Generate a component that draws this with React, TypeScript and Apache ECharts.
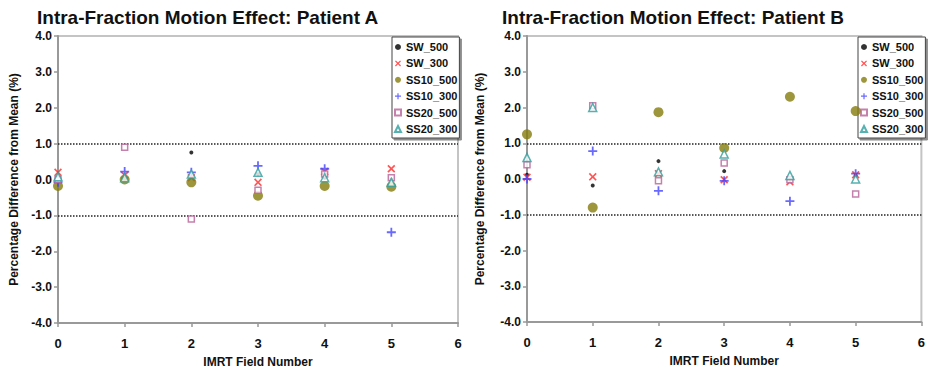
import React, { useEffect, useRef } from "react";
import * as echarts from "echarts";

// IMRT field numbers on the x axis
const fields = [0, 1, 2, 3, 4, 5];
const seriesNames = ["SW_500", "SW_300", "SS10_500", "SS10_300", "SS20_500", "SS20_300"];
const yTicks = [-4, -3, -2, -1, 0, 1, 2, 3, 4];
const toleranceLevels = [1, -1];

// Patient A: percentage difference from mean per field
const aSW500 = [0.05, 0.02, 0.75, 0.15, 0.05, 0.0];
const aSW300 = [0.2, 0.12, 0.05, -0.08, 0.22, 0.3];
const aSS10_500 = [-0.18, 0.0, -0.08, -0.45, -0.18, -0.2];
const aSS10_300 = [-0.08, 0.22, 0.2, 0.38, 0.3, -1.47];
const aSS20_500 = [0.0, 0.9, -1.1, -0.3, 0.15, 0.05];
const aSS20_300 = [0.08, 0.05, 0.15, 0.2, 0.05, -0.08];

// Patient B: percentage difference from mean per field
const bSW500 = [0.12, -0.18, 0.5, 0.22, 0.0, 0.1];
const bSW300 = [0.05, 0.06, 0.15, -0.02, -0.08, 0.12];
const bSS10_500 = [1.25, -0.8, 1.87, 0.87, 2.3, 1.9];
const bSS10_300 = [0.0, 0.78, -0.33, -0.05, -0.62, 0.15];
const bSS20_500 = [0.4, 2.05, -0.05, 0.45, -0.02, -0.42];
const bSS20_300 = [0.6, 2.0, 0.2, 0.7, 0.1, 0.0];

const patientA = [aSW500, aSW300, aSS10_500, aSS10_300, aSS20_500, aSS20_300];
const patientB = [bSW500, bSW300, bSS10_500, bSS10_300, bSS20_500, bSS20_300];

const FONT = "'Liberation Sans', Arial, sans-serif";

const CROSS = "path://M1.5,0L5,3.5L8.5,0L10,1.5L6.5,5L10,8.5L8.5,10L5,6.5L1.5,10L0,8.5L3.5,5L0,1.5Z";
const PLUS = "path://M4,0H6V4H10V6H6V10H4V6H0V4H4Z";

const markerStyles: any[] = [
  { symbol: "circle", symbolSize: 4, itemStyle: { color: "#000" } },
  { symbol: CROSS, symbolSize: 8, itemStyle: { color: "#ff2a2a" } },
  { symbol: "circle", symbolSize: 10, itemStyle: { color: "#847c0c" } },
  { symbol: PLUS, symbolSize: 9, itemStyle: { color: "#4444ff" } },
  { symbol: "rect", symbolSize: 6, itemStyle: { color: "#fff", borderColor: "#b8609a", borderWidth: 1.5 } },
  { symbol: "triangle", symbolSize: 8, itemStyle: { color: "#fff", borderColor: "#2e9e9e", borderWidth: 1.5 } },
];

function buildSeries(values: number[][], axisIndex: number) {
  return values.map((vals, i) => {
    const s: any = {
      type: "scatter",
      name: seriesNames[i],
      xAxisIndex: axisIndex,
      yAxisIndex: axisIndex,
      data: fields.map((f, k) => [f, vals[k]]),
      ...markerStyles[i],
      z: 3 + i,
    };
    if (i === 0) {
      s.markLine = {
        silent: true,
        symbol: "none",
        label: { show: false },
        lineStyle: { color: "#222", type: "dotted", width: 1.5 },
        data: toleranceLevels.map((v) => ({ yAxis: v })),
      };
    }
    return s;
  });
}

function xAxis(gridIndex: number) {
  return {
    type: "value",
    gridIndex,
    min: 0,
    max: 6,
    interval: 1,
    name: "IMRT Field Number",
    nameLocation: "middle",
    nameGap: 33,
    nameTextStyle: { fontFamily: FONT, fontWeight: "bold", fontSize: 12, color: "#111" },
    axisLine: { onZero: false, lineStyle: { color: "#999", width: 2 } },
    axisTick: { show: true, length: 4, lineStyle: { color: "#999", width: 1.5 } },
    axisLabel: { fontFamily: FONT, fontWeight: "bold", fontSize: 13, color: "#111", margin: 14 },
    splitLine: { show: false },
  };
}

function yAxis(gridIndex: number, gap: number) {
  return {
    type: "value",
    gridIndex,
    min: yTicks[0],
    max: yTicks[yTicks.length - 1],
    interval: 1,
    name: "Percentage Difference from Mean (%)",
    nameLocation: "middle",
    nameRotate: 90,
    nameGap: gap,
    nameTextStyle: { fontFamily: FONT, fontWeight: "bold", fontSize: 12, color: "#111" },
    axisLine: { show: true, onZero: false, lineStyle: { color: "#999", width: 2 } },
    axisTick: { show: true, length: 4, lineStyle: { color: "#999", width: 1.5 } },
    axisLabel: {
      fontFamily: FONT,
      fontWeight: "bold",
      fontSize: 12,
      color: "#111",
      margin: 6,
      formatter: (v: number) => v.toFixed(1),
    },
    splitLine: { show: false },
  };
}

function legend(left: number) {
  return {
    orient: "vertical",
    left,
    top: 37,
    data: seriesNames,
    itemWidth: 6,
    itemHeight: 6,
    itemGap: 4.4,
    padding: [4, 2, 3, 2],
    backgroundColor: "#fff",
    borderColor: "#444",
    borderWidth: 1,
    shadowColor: "rgba(0,0,0,0.45)",
    shadowOffsetX: 2,
    shadowOffsetY: 2,
    shadowBlur: 0,
    selectedMode: false,
    textStyle: { fontFamily: FONT, fontWeight: "bold", fontSize: 11, lineHeight: 12, color: "#111" },
  };
}

export default function App() {
  const ref = useRef<HTMLDivElement>(null);

  useEffect(() => {
    if (!ref.current) return;
    const chart = echarts.init(ref.current, undefined, { renderer: "svg" });
    chart.setOption({
      animation: false,
      backgroundColor: "#fff",
      title: [
        {
          text: "Intra-Fraction Motion Effect: Patient A",
          left: 32,
          top: 3,
          textStyle: { fontFamily: FONT, fontWeight: "bold", fontSize: 19, color: "#111" },
        },
        {
          text: "Intra-Fraction Motion Effect: Patient B",
          left: 497,
          top: 3,
          textStyle: { fontFamily: FONT, fontWeight: "bold", fontSize: 19, color: "#111" },
        },
      ],
      grid: [
        { left: 58, top: 36, width: 400, height: 287, show: true, borderColor: "#c4c4c4", borderWidth: 2, backgroundColor: "#fff" },
        { left: 527, top: 36, width: 397, height: 286, show: true, borderColor: "#c4c4c4", borderWidth: 2, backgroundColor: "#fff" },
      ],
      xAxis: [xAxis(0), xAxis(1)],
      yAxis: [yAxis(0, 38), yAxis(1, 41)],
      legend: [legend(392), legend(858)],
      series: [...buildSeries(patientA, 0), ...buildSeries(patientB, 1)],
    });
    return () => chart.dispose();
  }, []);

  return (
    <div
      ref={ref}
      style={{ position: "fixed", left: 0, top: 0, width: 928, height: 375, background: "#fff" }}
    />
  );
}
